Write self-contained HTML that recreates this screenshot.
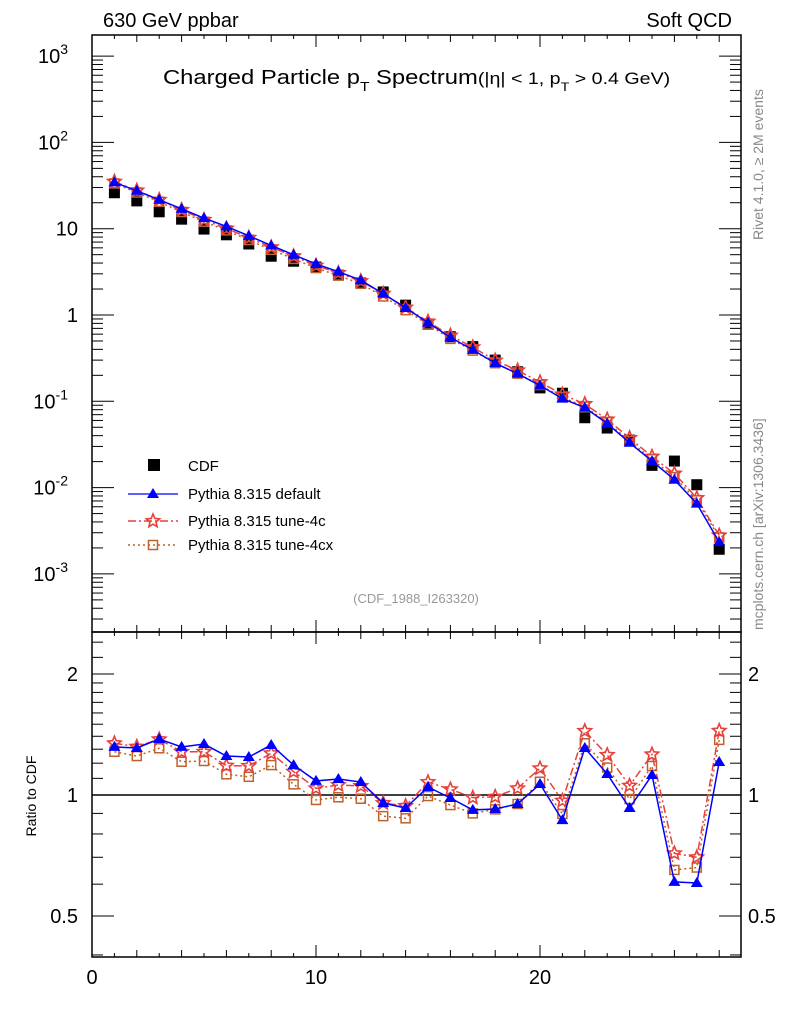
<!DOCTYPE html>
<html><head><meta charset="utf-8"><style>
html,body{margin:0;padding:0;background:#fff;}
svg{display:block;font-family:"Liberation Sans",sans-serif;}
</style></head><body>
<svg id="chart" width="786" height="1024" viewBox="0 0 786 1024" xmlns="http://www.w3.org/2000/svg">
<text x="103" y="27" font-size="20">630 GeV ppbar</text>
<text x="732" y="27" font-size="20" text-anchor="end">Soft QCD</text>
<text transform="translate(163,84) scale(1.19,1)" x="0" y="0" font-size="20">Charged Particle p<tspan dy="7" font-size="13">T</tspan><tspan dy="-7"> Spectrum</tspan><tspan font-size="16.5">(|η| &lt; 1, p</tspan><tspan dy="7" font-size="12">T</tspan><tspan dy="-7" font-size="16.5"> &gt; 0.4 GeV)</tspan></text>
<text x="416" y="603" font-size="13" fill="#999" text-anchor="middle">(CDF_1988_I263320)</text>
<text transform="translate(763,240) rotate(-90)" font-size="14" fill="#888">Rivet 4.1.0, ≥ 2M events</text>
<text transform="translate(763,630) rotate(-90)" font-size="14" fill="#888">mcplots.cern.ch [arXiv:1306.3436]</text>
<text transform="translate(36,796) rotate(-90)" font-size="14" text-anchor="middle">Ratio to CDF</text>
<g id="axes"></g>
<g id="marks"></g>
<g id="legend">
 <rect x="148" y="459" width="12" height="12" fill="#000"/>
 <text x="188" y="471" font-size="15">CDF</text>
 <line x1="128" y1="494" x2="178" y2="494" stroke="#0000ff" stroke-width="1.3"/>
 <polygon points="153,488 159,498 147,498" fill="#0000ff"/>
 <text x="188" y="499" font-size="15">Pythia 8.315 default</text>
 <line x1="128" y1="521" x2="178" y2="521" stroke="#e8413c" stroke-width="1.5" stroke-dasharray="8,3,2,3"/>
 <polygon id="legstar" fill="none" stroke="#e8413c" stroke-width="1.6"/>
 <text x="188" y="526" font-size="15">Pythia 8.315 tune-4c</text>
 <line x1="128" y1="545" x2="178" y2="545" stroke="#c0602a" stroke-width="1.5" stroke-dasharray="2,3"/>
 <rect x="148.5" y="540.5" width="9" height="9" fill="none" stroke="#c0602a" stroke-width="1.5"/>
 <text x="188" y="550" font-size="15">Pythia 8.315 tune-4cx</text>
</g>
</svg>
<script>
const xs = [1,2,3,4,5,6,7,8,9,10,11,12,13,14,15,16,17,18,19,20,21,22,23,24,25,26,27,28];
const cdfValues = [26.1,21,15.7,12.9,9.9,8.5,6.65,4.8,4.2,3.6,2.9,2.35,1.85,1.3,0.78,0.56,0.43,0.30,0.22,0.143,0.124,0.0645,0.049,0.0356,0.0181,0.0203,0.0108,0.00193];
const ratioDefault = [1.317,1.309,1.378,1.317,1.339,1.25,1.243,1.332,1.187,1.084,1.096,1.077,0.955,0.928,1.047,0.983,0.918,0.923,0.95,1.065,0.866,1.309,1.128,0.928,1.121,0.608,0.604,1.208];
const ratio4c = [1.345,1.319,1.376,1.281,1.281,1.183,1.181,1.27,1.143,1.039,1.059,1.053,0.955,0.939,1.077,1.033,0.985,0.99,1.039,1.165,0.968,1.443,1.258,1.055,1.262,0.716,0.70,1.445];
const ratio4cx = [1.281,1.25,1.307,1.21,1.215,1.126,1.11,1.187,1.063,0.972,0.987,0.979,0.886,0.875,0.994,0.944,0.90,0.921,0.95,1.079,0.897,1.345,1.17,0.977,1.181,0.651,0.66,1.371];
const mainTickLabels = ["10^-3","10^-2","10^-1","1","10","10^2","10^3"];
const ratioTickLabels = ["0.5","1","2"];
const xTickLabels = ["0","10","20"];

const NS="http://www.w3.org/2000/svg";
const L=92,R=741,T=35,MB=632,RB=957;
const X=v=>L+(v)*22.4;
const Y=v=>315-86.3*Math.log10(v);
const RY=v=>795-121*Math.log2(v);
const axes=document.getElementById('axes'), marks=document.getElementById('marks');
function mk(tag,attrs,parent){const e=document.createElementNS(NS,tag);for(const k in attrs)e.setAttribute(k,attrs[k]);parent.appendChild(e);return e;}
function line(x1,y1,x2,y2,p,w){return mk('line',{x1,y1,x2,y2,stroke:'#000','stroke-width':w||1},p);}
function starPts(x,y,r){let p=[];for(let k=0;k<10;k++){const a=-Math.PI/2+k*Math.PI/5;const rr=k%2?r*0.45:r;p.push((x+rr*Math.cos(a)).toFixed(2)+','+(y+rr*Math.sin(a)).toFixed(2));}return p.join(' ');}
document.getElementById('legstar').setAttribute('points',starPts(153,521,7));

let f1=mk('rect',{x:L,y:T,width:R-L,height:MB-T,fill:'none',stroke:'#000','stroke-width':1.5},axes);


let f2=mk('rect',{x:L,y:MB,width:R-L,height:RB-MB,fill:'none',stroke:'#000','stroke-width':1.5},axes);


for(let i=1;i<29;i++){const x=X(i);const len=i%10==0?12:(i%2==0?7:4);
 [[T,1],[MB,-1],[MB,1],[RB,-1]].forEach(([y,d])=>line(x,y,x,y+d*len,axes));}
xTickLabels.forEach(s=>{const t=mk('text',{x:X(+s),y:RB+27,'font-size':20,'text-anchor':'middle'},axes);t.textContent=s;
 
 });
for(let e=-4;e<=3;e++){for(let m=1;m<10;m++){const v=m*Math.pow(10,e);const y=Y(v);if(y<T||y>MB)continue;const len=m==1?22:11;
 line(L,y,L+len,y,axes);line(R,y,R-len,y,axes);}}
mainTickLabels.forEach((s,i)=>{const e=i-3;const y=Y(Math.pow(10,e))+7;
 const t=mk('text',{x:78,y:y,'font-size':20,'text-anchor':'end'},axes);
 if(e===0)t.textContent='1';else if(e===1)t.textContent='10';else{const p=s.split('^');t.textContent=p[0];const sp=mk('tspan',{dy:-9,'font-size':14},t);sp.textContent=p[1];}
 if(e!==0&&e!==1)t.setAttribute('x',68);
 
 });
[0.4,0.5,0.6,0.7,0.8,0.9,1,1.1,1.2,1.3,1.4,1.5,1.6,1.7,1.8,1.9,2,2.2,2.4].forEach(v=>{const y=RY(v);if(y<MB+1||y>RB-1)return;
 const len=(v==0.5||v==1||v==2)?22:11;line(L,y,L+len,y,axes);line(R,y,R-len,y,axes);});
ratioTickLabels.forEach(s=>{const y=RY(+s)+7;
 let t=mk('text',{x:78,y,'font-size':20,'text-anchor':'end'},axes);t.textContent=s;
 
 
 let t2=mk('text',{x:748,y,'font-size':20},axes);t2.textContent=s;
 
 });
let ref=line(L,RY(1),R,RY(1),axes,1.5);



const series=[
 {name:'tune-4cx',r:ratio4cx,color:'#c0602a',dash:'2,3',marker:'sq'},
 {name:'tune-4c',r:ratio4c,color:'#e8413c',dash:'8,3,2,3',marker:'star'},
 {name:'default',r:ratioDefault,color:'#0000ff',dash:'',marker:'tri'}];
function marker(type,x,y,color,g){
 if(type==='sq')return mk('rect',{x:x-4.5,y:y-4.5,width:9,height:9,fill:'none',stroke:color,'stroke-width':1.5},g);
 if(type==='tri')return mk('polygon',{points:`${x},${y-6} ${x+6},${y+4} ${x-6},${y+4}`,fill:color},g);
 return mk('polygon',{points:starPts(x,y,7),fill:'none',stroke:color,'stroke-width':1.6},g);}
function draw(Yf,vals,s,panel){
 const g=mk('g',{},marks);
 
 
 const pts=xs.map((x,i)=>X(x)+','+Yf(vals[i])).join(' ');
 const pl=mk('polyline',{points:pts,fill:'none',stroke:s.color,'stroke-width':1.5},g);
 if(s.dash)pl.setAttribute('stroke-dasharray',s.dash);
 
 
 xs.forEach((x,i)=>{const m=marker(s.marker,X(x),Yf(vals[i]),s.color,g);
  
  });}
const gc=mk('g',{},marks);


xs.forEach((x,i)=>{const r=mk('rect',{x:X(x)-5.5,y:Y(cdfValues[i])-5.5,width:11,height:11,fill:'#000'},gc);
 
 });
series.forEach(s=>{draw(Y,s.r.map((v,i)=>v*cdfValues[i]),s,'main');draw(RY,s.r,s,'ratio');});
</script>
</body></html>
